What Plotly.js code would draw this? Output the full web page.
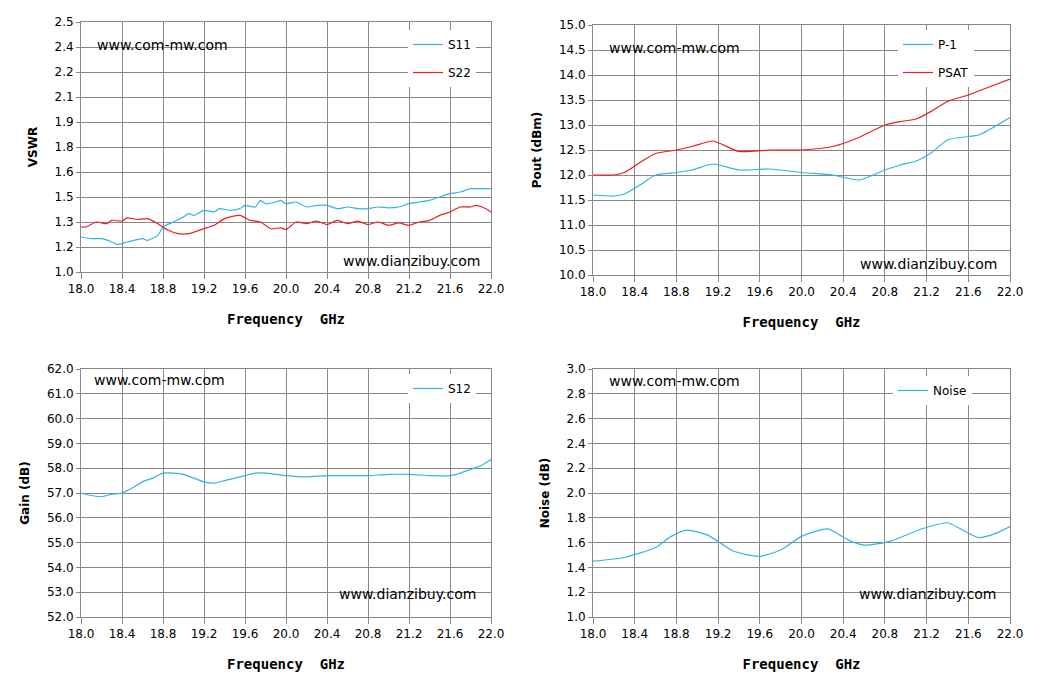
<!DOCTYPE html>
<html><head><meta charset="utf-8">
<script src="https://cdn.plot.ly/plotly-3.0.1.min.js"></script>
</head><body style="margin:0">
<div id="chart" style="width:1046px;height:691px"></div>
<script>
const s11F = [18.0,18.1,18.2,18.3,18.35,18.45,18.6,18.65,18.75,18.8,18.9,19.0,19.05,19.1,19.2,19.3,19.35,19.45,19.55,19.6,19.7,19.75,19.8,19.9,19.95,20.0,20.1,20.2,20.3,20.4,20.5,20.6,20.7,20.8,20.9,21.0,21.1,21.2,21.3,21.4,21.5,21.6,21.7,21.8,21.9,22.0];
const s11V = [1.21,1.20,1.20,1.18,1.165,1.18,1.20,1.19,1.22,1.27,1.30,1.33,1.35,1.34,1.37,1.36,1.38,1.37,1.38,1.40,1.39,1.43,1.41,1.42,1.43,1.41,1.42,1.39,1.40,1.40,1.38,1.39,1.38,1.38,1.39,1.385,1.39,1.41,1.42,1.43,1.45,1.47,1.48,1.50,1.50,1.50];
const s22F = [18.0,18.05,18.15,18.25,18.3,18.4,18.45,18.55,18.65,18.75,18.85,18.95,19.05,19.2,19.3,19.4,19.55,19.65,19.75,19.85,19.95,20.0,20.1,20.2,20.3,20.4,20.5,20.6,20.7,20.8,20.9,21.0,21.1,21.2,21.3,21.4,21.5,21.6,21.7,21.8,21.85,21.95,22.0];
const s22V = [1.27,1.27,1.30,1.29,1.31,1.305,1.325,1.315,1.32,1.29,1.25,1.23,1.23,1.26,1.28,1.32,1.34,1.31,1.30,1.26,1.265,1.255,1.30,1.29,1.305,1.285,1.31,1.29,1.305,1.285,1.30,1.28,1.295,1.28,1.30,1.31,1.34,1.36,1.39,1.39,1.40,1.38,1.36];
const powF = [18.0,18.2,18.3,18.45,18.6,18.8,18.95,19.15,19.4,19.7,20.0,20.3,20.55,20.8,20.95,21.1,21.25,21.4,21.6,21.7,22.0];
const p1V = [11.6,11.58,11.62,11.8,12.0,12.05,12.1,12.22,12.1,12.12,12.05,12.0,11.9,12.1,12.2,12.28,12.45,12.7,12.77,12.8,13.15];
const psatV = [12.0,12.0,12.05,12.25,12.43,12.5,12.57,12.68,12.47,12.5,12.5,12.57,12.75,13.0,13.07,13.12,13.28,13.47,13.6,13.68,13.92];
const gainF = [18.0,18.1,18.2,18.3,18.4,18.5,18.6,18.7,18.8,18.9,19.0,19.1,19.2,19.3,19.4,19.5,19.6,19.7,19.8,19.9,20.0,20.2,20.4,20.6,20.8,21.0,21.2,21.4,21.6,21.7,21.8,21.9,22.0];
const gainV = [57.0,56.9,56.85,56.95,57.0,57.2,57.45,57.6,57.8,57.8,57.75,57.6,57.45,57.4,57.5,57.6,57.7,57.8,57.8,57.75,57.7,57.65,57.7,57.7,57.7,57.75,57.75,57.7,57.7,57.8,57.95,58.1,58.35];
const noiseF = [18.0,18.3,18.6,18.75,18.9,19.1,19.35,19.6,19.8,20.0,20.25,20.45,20.6,20.85,21.15,21.4,21.55,21.7,21.85,22.0];
const noiseV = [1.45,1.48,1.56,1.65,1.70,1.66,1.53,1.49,1.54,1.65,1.71,1.62,1.58,1.61,1.71,1.76,1.70,1.64,1.67,1.73];
const vswrTicks = ["1.0","1.2","1.3","1.5","1.6","1.8","1.9","2.1","2.2","2.4","2.5"];

const W = 1046, H = 691;
const BLUE = "#30b4e8", RED = "#ee1c25";
const dom = (a, b) => [a / W, b / W];
const ydom = (top, bot) => [1 - bot / H, 1 - top / H];

function xa(d, anchor) {
  return {
    domain: d, anchor, range: [18, 22], tickvals: [18,18.4,18.8,19.2,19.6,20,20.4,20.8,21.2,21.6,22],
    tickformat: ".1f", showgrid: true, gridcolor: "#888", linecolor: "#888", mirror: true,
    ticks: "outside", tickcolor: "#888", ticklen: 6, zeroline: false,
    title: {text: "Frequency  GHz", font: {family: "DejaVu Sans Mono", size: 14, color: "#000", weight: "bold"}, standoff: 18}
  };
}
function ya(d, anchor, range, dtick, title) {
  return {
    domain: d, anchor, range, dtick, tickformat: ".1f", showgrid: true, gridcolor: "#888",
    linecolor: "#888", mirror: true, ticks: "outside", tickcolor: "#888", ticklen: 4, zeroline: false,
    title: {text: title, font: {family: "DejaVu Sans", size: 12, color: "#000", weight: "bold"}, standoff: 14}
  };
}
const ln = (x, y, color, name, xaxis, yaxis, legend) =>
  ({x, y, name, xaxis, yaxis, legend, legendgroup: name, mode: "lines", type: "scatter", line: {color, width: 1.2, shape: "spline", smoothing: 0.6}});

const data = [
  ln(s11F, s11V, BLUE, "S11", "x", "y", "legend"),
  ln(s22F, s22V, RED, "S22", "x", "y", "legend"),
  ln(powF, p1V, BLUE, "P-1", "x2", "y2", "legend2"),
  ln(powF, psatV, RED, "PSAT", "x2", "y2", "legend2"),
  ln(gainF, gainV, BLUE, "S12", "x3", "y3", "legend3"),
  ln(noiseF, noiseV, BLUE, "Noise", "x4", "y4", "legend4"),
];

const lg = (x, y) => ({x: x / W, y: 1 - y / H, xanchor: "left", yanchor: "top", bgcolor: "#fff",
  font: {family: "DejaVu Sans", size: 12, color: "#000"}, tracegroupgap: 9, itemwidth: 30});

const y1 = ya(ydom(22, 272), "x", [1.0, 2.5], 0.15, "VSWR");
y1.tickvals = vswrTicks.map((t, i) => 1.0 + 0.15 * i);
y1.ticktext = vswrTicks;

const ann = [];
[[95, 35], [607, 38], [92, 380], [607, 381]].forEach(p => ann.push({text: "www.com-mw.com", x: p[0] / W, y: 1 - p[1] / H, xref: "paper", yref: "paper", xanchor: "left", showarrow: false, font: {family: "DejaVu Sans", size: 14, color: "#000"}}));
[[482, 261], [999, 264], [478, 604], [998, 604]].forEach(p => ann.push({text: "www.dianzibuy.com", x: p[0] / W, y: 1 - p[1] / H, xref: "paper", yref: "paper", xanchor: "right", showarrow: false, font: {family: "DejaVu Sans", size: 14, color: "#000"}}));

const layout = {
  width: W, height: H, margin: {l: 0, r: 0, t: 0, b: 0}, paper_bgcolor: "#fff", plot_bgcolor: "#fff",
  font: {family: "DejaVu Sans", size: 12, color: "#000"}, showlegend: true,
  xaxis: xa(dom(81, 491), "y"), yaxis: y1,
  xaxis2: xa(dom(593, 1010), "y2"), yaxis2: ya(ydom(25, 275), "x2", [10, 15], 0.5, "Pout (dBm)"),
  xaxis3: xa(dom(81, 491), "y3"), yaxis3: ya(ydom(369, 617), "x3", [52, 62], 1, "Gain (dB)"),
  xaxis4: xa(dom(593, 1010), "y4"), yaxis4: ya(ydom(369, 617), "x4", [1.0, 3.0], 0.2, "Noise (dB)"),
  legend: lg(408, 30), legend2: lg(898, 30), legend3: lg(408, 374), legend4: lg(893, 376),
  annotations: ann,
};
Plotly.newPlot("chart", data, layout, {displayModeBar: false});
</script>
</body></html>
